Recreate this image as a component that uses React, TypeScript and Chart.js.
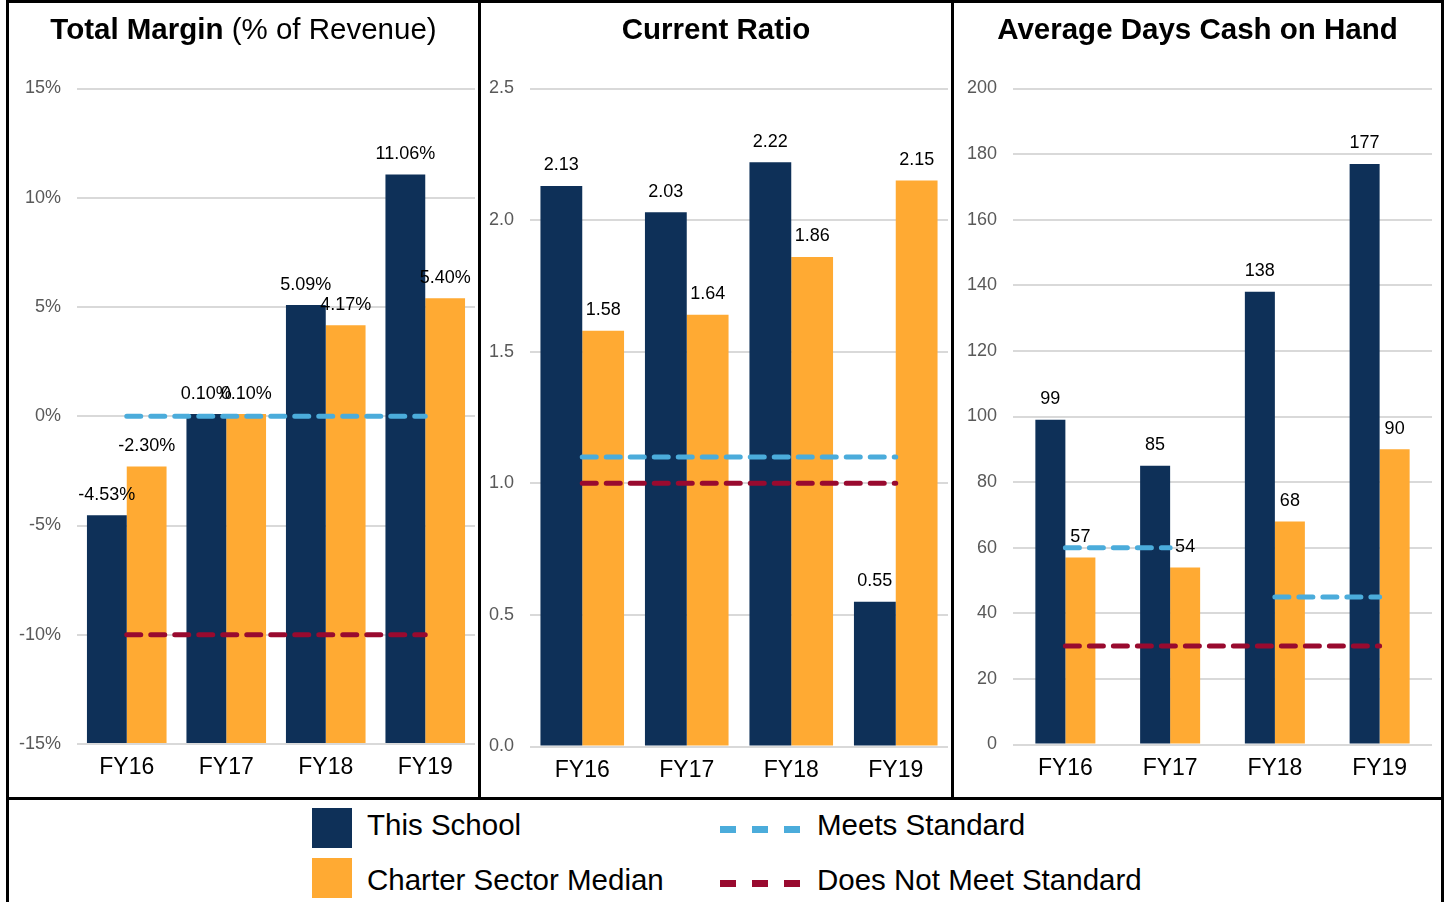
import React, { useEffect, useRef } from "react";
import { Chart, registerables } from "chart.js";

Chart.register(...registerables);

const categories = ["FY16", "FY17", "FY18", "FY19"];

const marginSchool = [-4.53, 0.1, 5.09, 11.06];
const marginMedian = [-2.3, 0.1, 4.17, 5.4];
const marginMeets = [0, 0, 0, 0];
const marginNotMeet = [-10, -10, -10, -10];

const ratioSchool = [2.13, 2.03, 2.22, 0.55];
const ratioMedian = [1.58, 1.64, 1.86, 2.15];
const ratioMeets = [1.1, 1.1, 1.1, 1.1];
const ratioNotMeet = [1.0, 1.0, 1.0, 1.0];

const cashSchool = [99, 85, 138, 177];
const cashMedian = [57, 54, 68, 90];
const cashMeetsEarly = [60, 60, null, null];
const cashMeetsLate = [null, null, 45, 45];
const cashNotMeet = [30, 30, 30, 30];

const NAVY = "#0E3058";
const ORANGE = "#FFAA33";
const BLUE = "#4BACDB";
const RED = "#990A2F";
const FONT = "'Liberation Sans', Arial, sans-serif";

const makeLabelPlugin = (fmt: (v: number) => string) => ({
  id: "barLabels",
  afterDatasetsDraw(chart: any) {
    const ctx = chart.ctx;
    ctx.save();
    ctx.font = `18px ${FONT}`;
    ctx.fillStyle = "#000";
    ctx.textAlign = "center";
    ctx.textBaseline = "middle";
    chart.data.datasets.forEach((ds: any, i: number) => {
      if (ds.type !== "bar") return;
      const meta = chart.getDatasetMeta(i);
      meta.data.forEach((el: any, j: number) => {
        const v = ds.data[j];
        ctx.fillText(fmt(Number(v)), el.x, el.y - 20.5);
      });
    });
    ctx.restore();
  },
});

type Cfg = {
  school: number[];
  median: number[];
  lines: { data: (number | null)[]; color: string }[];
  min: number;
  max: number;
  step: number;
  tick: (v: number) => string;
  fmt: (v: number) => string;
  base?: number;
  catPct: number;
  yWidth: number;
  xHeight: number;
  padRight: number;
  width: number;
  height: number;
};

function Panel({ cfg, style }: { cfg: Cfg; style: React.CSSProperties }) {
  const ref = useRef<HTMLCanvasElement>(null);
  useEffect(() => {
    if (!ref.current) return;
    const lineSets = cfg.lines.map((l) => ({
      type: "line" as const,
      data: l.data,
      borderColor: l.color,
      backgroundColor: l.color,
      borderWidth: 5,
      borderDash: [14, 10],
      borderCapStyle: "round" as const,
      pointRadius: 0,
      spanGaps: false,
      order: 1,
    }));
    const barBase: any = cfg.base !== undefined ? { base: cfg.base } : {};
    const tickFn = cfg.tick;
    const chart = new Chart(ref.current, {
      type: "bar",
      data: {
        labels: categories,
        datasets: [
          {
            type: "bar",
            data: cfg.school,
            backgroundColor: NAVY,
            categoryPercentage: cfg.catPct,
            barPercentage: 1,
            order: 2,
            ...barBase,
          } as any,
          {
            type: "bar",
            data: cfg.median,
            backgroundColor: ORANGE,
            categoryPercentage: cfg.catPct,
            barPercentage: 1,
            order: 2,
            ...barBase,
          } as any,
          ...lineSets,
        ],
      },
      options: {
        animation: false,
        responsive: false,
        maintainAspectRatio: false,
        layout: { padding: { top: 85.5, right: cfg.padRight, bottom: 0, left: 0 } },
        plugins: {
          legend: { display: false },
          tooltip: { enabled: false },
          title: { display: false },
        },
        scales: {
          x: {
            grid: { display: false },
            border: { display: false },
            ticks: { color: "#000", font: { family: FONT, size: 23 }, padding: 2 },
            afterFit: (s: any) => {
              s.height = cfg.xHeight;
            },
          },
          y: {
            min: cfg.min,
            max: cfg.max,
            border: { display: false },
            grid: { color: "#D9D9D9", lineWidth: 2, drawTicks: false },
            ticks: {
              stepSize: cfg.step,
              color: "#595959",
              font: { family: FONT, size: 18 },
              padding: 16,
              callback: (v: any) => tickFn(Number(v)),
            },
            afterFit: (s: any) => {
              s.width = cfg.yWidth;
            },
          },
        },
      },
      plugins: [makeLabelPlugin(cfg.fmt)],
    });
    return () => chart.destroy();
  }, []);
  return <canvas ref={ref} width={cfg.width} height={cfg.height} style={{ position: "absolute", ...style }} />;
}

const line = (s: React.CSSProperties): React.CSSProperties => ({ position: "absolute", background: "#000", ...s });

const cfg1: Cfg = {
  school: marginSchool,
  median: marginMedian,
  lines: [
    { data: marginMeets, color: BLUE },
    { data: marginNotMeet, color: RED },
  ],
  min: -15,
  max: 15,
  step: 5,
  tick: (v) => `${v}%`,
  fmt: (v) => `${v.toFixed(2)}%`,
  base: -15,
  catPct: 0.8,
  yWidth: 68,
  xHeight: 53,
  padRight: 3,
  width: 469,
  height: 794,
};
const cfg2: Cfg = {
  school: ratioSchool,
  median: ratioMedian,
  lines: [
    { data: ratioMeets, color: BLUE },
    { data: ratioNotMeet, color: RED },
  ],
  min: 0,
  max: 2.5,
  step: 0.5,
  tick: (v) => v.toFixed(1),
  fmt: (v) => v.toFixed(2),
  catPct: 0.8,
  yWidth: 49,
  xHeight: 50.5,
  padRight: 3,
  width: 470,
  height: 794,
};
const cfg3: Cfg = {
  school: cashSchool,
  median: cashMedian,
  lines: [
    { data: cashMeetsEarly, color: BLUE },
    { data: cashMeetsLate, color: BLUE },
    { data: cashNotMeet, color: RED },
  ],
  min: 0,
  max: 200,
  step: 20,
  tick: (v) => `${v}`,
  fmt: (v) => `${Math.round(v)}`,
  catPct: 0.573,
  yWidth: 59,
  xHeight: 52.5,
  padRight: 9,
  width: 487,
  height: 794,
};

export default function App() {
  const titleStyle = (left: number, width: number): React.CSSProperties => ({
    position: "absolute",
    left,
    width,
    top: 12,
    lineHeight: "34px",
    fontSize: 29.5,
    textAlign: "center",
    fontFamily: FONT,
    color: "#000",
    whiteSpace: "nowrap",
  });

  const legendText = (left: number, cy: number): React.CSSProperties => ({
    position: "absolute",
    left,
    top: cy - 17,
    lineHeight: "34px",
    fontSize: 29.5,
    fontFamily: FONT,
    color: "#000",
    whiteSpace: "nowrap",
  });

  const dash = (color: string, cy: number): React.CSSProperties => ({
    position: "absolute",
    left: 720,
    top: cy - 3.5,
    width: 80,
    height: 7,
    background: `repeating-linear-gradient(to right, ${color} 0px, ${color} 16px, transparent 16px, transparent 32px)`,
  });

  return (
    <div
      style={{
        position: "absolute",
        left: 0,
        top: 0,
        width: 1448,
        height: 902,
        background: "#fff",
        overflow: "hidden",
        fontFamily: FONT,
      }}
    >
      <Panel cfg={cfg1} style={{ left: 9, top: 3 }} />
      <Panel cfg={cfg2} style={{ left: 481, top: 3 }} />
      <Panel cfg={cfg3} style={{ left: 954, top: 3 }} />

      <div style={titleStyle(9, 469)}>
        <b>Total Margin</b> (% of Revenue)
      </div>
      <div style={titleStyle(481, 470)}>
        <b>Current Ratio</b>
      </div>
      <div style={titleStyle(954, 487)}>
        <b>Average Days Cash on Hand</b>
      </div>

      <div style={line({ left: 6, top: 0, width: 1438, height: 3 })} />
      <div style={line({ left: 6, top: 797, width: 1438, height: 3 })} />
      <div style={line({ left: 6, top: 0, width: 3, height: 902 })} />
      <div style={line({ left: 1441, top: 0, width: 3, height: 902 })} />
      <div style={line({ left: 478, top: 0, width: 3, height: 800 })} />
      <div style={line({ left: 951, top: 0, width: 3, height: 800 })} />

      <div style={{ position: "absolute", left: 312, top: 808, width: 40, height: 40, background: NAVY }} />
      <div style={{ position: "absolute", left: 312, top: 858, width: 40, height: 40, background: ORANGE }} />
      <div style={legendText(367, 825)}>This School</div>
      <div style={legendText(367, 880)}>Charter Sector Median</div>
      <div style={dash(BLUE, 829)} />
      <div style={dash(RED, 883)} />
      <div style={legendText(817, 825)}>Meets Standard</div>
      <div style={legendText(817, 880)}>Does Not Meet Standard</div>
    </div>
  );
}
